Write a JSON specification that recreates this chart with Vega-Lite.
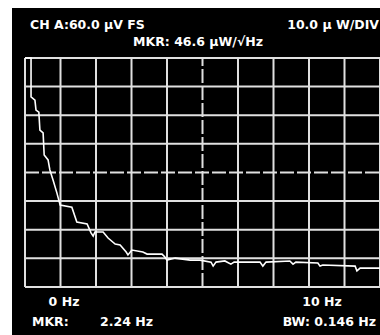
{
  "$schema": "https://vega.github.io/schema/vega-lite/v6.json",
  "width": 368,
  "height": 327,
  "autosize": {"type": "none"},
  "padding": {"left": 12, "top": 8, "right": 0, "bottom": 0},
  "background": "white",
  "config": {"view": {"fill": "black", "stroke": null}, "text": {"color": "white", "font": "DejaVu Sans", "fontWeight": "bold", "fontSize": 12.5, "baseline": "middle"}},
  "datasets": {
    "vgrid": [{"hz": 0}, {"hz": 1}, {"hz": 2}, {"hz": 3}, {"hz": 4}, {"hz": 6}, {"hz": 7}, {"hz": 8}, {"hz": 9}, {"hz": 10}],
    "hgrid": [{"uw": 0}, {"uw": 10}, {"uw": 20}, {"uw": 30}, {"uw": 50}, {"uw": 60}, {"uw": 70}, {"uw": 80}],
    "trace": [
      {"hz": 0, "uw": 80}, {"hz": 0.17, "uw": 80}, {"hz": 0.17, "uw": 66.4}, {"hz": 0.28, "uw": 65.3},
      {"hz": 0.31, "uw": 61.8}, {"hz": 0.39, "uw": 61.1}, {"hz": 0.42, "uw": 54.8}, {"hz": 0.51, "uw": 53.8},
      {"hz": 0.54, "uw": 46.1}, {"hz": 0.65, "uw": 44.4}, {"hz": 0.70, "uw": 40.9}, {"hz": 0.79, "uw": 37.4},
      {"hz": 0.90, "uw": 32.8}, {"hz": 0.99, "uw": 28.6}, {"hz": 1.32, "uw": 27.9}, {"hz": 1.46, "uw": 22.7},
      {"hz": 1.75, "uw": 22.0}, {"hz": 1.86, "uw": 18.9}, {"hz": 1.92, "uw": 17.8}, {"hz": 1.97, "uw": 19.2},
      {"hz": 2.20, "uw": 19.2}, {"hz": 2.34, "uw": 17.1}, {"hz": 2.54, "uw": 15.0}, {"hz": 2.68, "uw": 14.7},
      {"hz": 2.85, "uw": 12.2}, {"hz": 2.90, "uw": 11.2}, {"hz": 3.01, "uw": 12.9}, {"hz": 3.32, "uw": 12.2},
      {"hz": 3.44, "uw": 11.5}, {"hz": 3.86, "uw": 11.5}, {"hz": 3.94, "uw": 10.5}, {"hz": 4.00, "uw": 9.4},
      {"hz": 4.23, "uw": 10.1}, {"hz": 4.65, "uw": 9.4}, {"hz": 4.93, "uw": 9.4}, {"hz": 5.24, "uw": 8.7},
      {"hz": 5.30, "uw": 7.3}, {"hz": 5.38, "uw": 8.7}, {"hz": 5.63, "uw": 9.1}, {"hz": 5.80, "uw": 8.0},
      {"hz": 5.89, "uw": 8.7}, {"hz": 6.62, "uw": 8.7}, {"hz": 6.70, "uw": 7.3}, {"hz": 6.79, "uw": 8.7},
      {"hz": 7.46, "uw": 9.1}, {"hz": 7.55, "uw": 8.0}, {"hz": 7.63, "uw": 8.7}, {"hz": 8.25, "uw": 8.4},
      {"hz": 8.31, "uw": 7.3}, {"hz": 8.39, "uw": 7.7}, {"hz": 9.30, "uw": 7.3}, {"hz": 9.35, "uw": 5.6},
      {"hz": 9.44, "uw": 6.6}, {"hz": 10, "uw": 6.6}
    ]
  },
  "layer": [
    {
      "data": {"name": "vgrid"},
      "mark": {"type": "rule", "color": "#e0e0e0", "strokeWidth": 2},
      "encoding": {
        "x": {"field": "hz", "type": "quantitative", "scale": {"domain": [-0.3662, 10], "nice": false, "zero": false}, "axis": null},
        "y": {"datum": 0, "type": "quantitative", "scale": {"domain": [-16.769, 97.467], "nice": false, "zero": false}, "axis": null},
        "y2": {"datum": 80}
      }
    },
    {
      "data": {"values": [{"hz": 5}]},
      "mark": {"type": "rule", "color": "#e0e0e0", "strokeWidth": 2, "strokeDash": [14, 3]},
      "encoding": {
        "x": {"field": "hz", "type": "quantitative"},
        "y": {"datum": 0, "type": "quantitative"},
        "y2": {"datum": 80}
      }
    },
    {
      "data": {"name": "hgrid"},
      "mark": {"type": "rule", "color": "#e0e0e0", "strokeWidth": 2},
      "encoding": {
        "y": {"field": "uw", "type": "quantitative"},
        "x": {"datum": 0, "type": "quantitative"},
        "x2": {"datum": 10}
      }
    },
    {
      "data": {"values": [{"uw": 40}]},
      "mark": {"type": "rule", "color": "#e0e0e0", "strokeWidth": 2, "strokeDash": [14, 3]},
      "encoding": {
        "y": {"field": "uw", "type": "quantitative"},
        "x": {"datum": 0, "type": "quantitative"},
        "x2": {"datum": 10}
      }
    },
    {
      "data": {"name": "trace"},
      "mark": {"type": "line", "color": "white", "strokeWidth": 1.6},
      "encoding": {
        "x": {"field": "hz", "type": "quantitative"},
        "y": {"field": "uw", "type": "quantitative"}
      }
    },
    {
      "data": {"values": [{"t": "CH A:60.0 μV FS"}]},
      "mark": {"type": "text", "align": "left"},
      "encoding": {"text": {"field": "t"}, "x": {"datum": 0.141, "type": "quantitative"}, "y": {"datum": 91.7, "type": "quantitative"}}
    },
    {
      "data": {"values": [{"t": "10.0 μ W/DIV"}]},
      "mark": {"type": "text", "align": "right"},
      "encoding": {"text": {"field": "t"}, "x": {"datum": 9.972, "type": "quantitative"}, "y": {"datum": 91.7, "type": "quantitative"}}
    },
    {
      "data": {"values": [{"t": "MKR: 46.6 μW/√Hz"}]},
      "mark": {"type": "text", "align": "center"},
      "encoding": {"text": {"field": "t"}, "x": {"datum": 4.873, "type": "quantitative"}, "y": {"datum": 85.76, "type": "quantitative"}}
    },
    {
      "data": {"values": [{"t": "0 Hz"}]},
      "mark": {"type": "text", "align": "center"},
      "encoding": {"text": {"field": "t"}, "x": {"datum": 1.099, "type": "quantitative"}, "y": {"datum": -5.41, "type": "quantitative"}}
    },
    {
      "data": {"values": [{"t": "10 Hz"}]},
      "mark": {"type": "text", "align": "center"},
      "encoding": {"text": {"field": "t"}, "x": {"datum": 8.366, "type": "quantitative"}, "y": {"datum": -5.41, "type": "quantitative"}}
    },
    {
      "data": {"values": [{"t": "MKR:"}]},
      "mark": {"type": "text", "align": "left"},
      "encoding": {"text": {"field": "t"}, "x": {"datum": 0.197, "type": "quantitative"}, "y": {"datum": -12.4, "type": "quantitative"}}
    },
    {
      "data": {"values": [{"t": "2.24 Hz"}]},
      "mark": {"type": "text", "align": "left"},
      "encoding": {"text": {"field": "t"}, "x": {"datum": 2.113, "type": "quantitative"}, "y": {"datum": -12.4, "type": "quantitative"}}
    },
    {
      "data": {"values": [{"t": "BW: 0.146 Hz"}]},
      "mark": {"type": "text", "align": "right"},
      "encoding": {"text": {"field": "t"}, "x": {"datum": 9.887, "type": "quantitative"}, "y": {"datum": -12.4, "type": "quantitative"}}
    }
  ]
}
